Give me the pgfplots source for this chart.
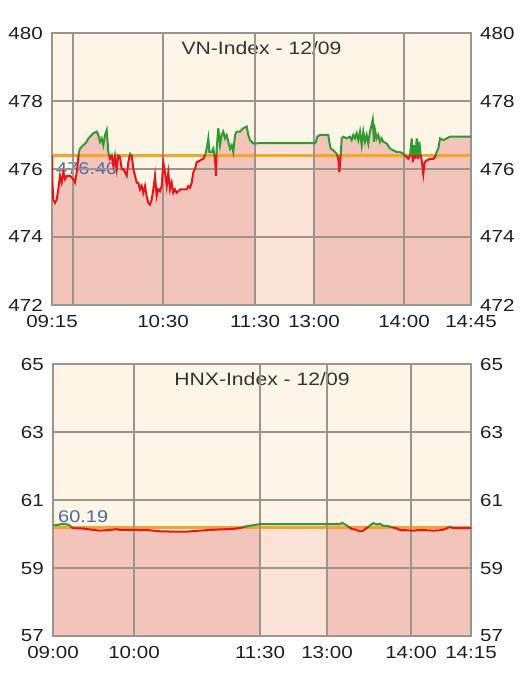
\documentclass[border=0pt]{standalone}
\usepackage{fontspec}
\setmainfont[FakeStretch=1.18]{Liberation Sans}
\usepackage{pgfplots}
\pgfplotsset{compat=1.18}
\usepackage{pgfplotstable}

\definecolor{cream}{HTML}{FDF6E6}
\definecolor{pinkfill}{HTML}{F3C5BA}
\definecolor{lunch}{HTML}{FFF6EA}
\definecolor{gridc}{HTML}{9C958E}
\definecolor{ornge}{HTML}{F6A623}
\definecolor{grn}{HTML}{2E9B2E}
\definecolor{rd}{HTML}{E8141A}
\definecolor{lbl}{HTML}{4E69A6}
\definecolor{ttl}{HTML}{333333}

\pgfplotstableread{
x y
0 476.4
0.3 475.7
1.3 475.1
3.0 475.0
4.7 475.1
6.3 475.4
8.0 475.8
9.7 475.6
11.3 475.9
13.0 475.7
14.7 475.8
18.0 475.8
21.3 475.7
23.0 475.6
24.7 475.9
27.0 476.5
28.0 476.6
31.3 476.7
34.7 476.8
36.3 476.9
38.0 476.95
41.3 477.05
44.7 477.1
46.3 477.0
48.0 476.8
49.7 476.9
51.3 476.7
53.0 477.0
54.7 477.15
56.3 476.5
58.0 476.3
59.7 476.4
61.3 476.1
63.0 476.4
64.7 476.0
66.3 476.4
68.0 476.35
69.7 476.0
71.3 476.0
73.0 475.9
74.7 475.8
76.3 476.2
78.0 476.45
79.7 476.4
81.3 476.0
83.0 475.8
84.7 475.6
86.3 475.6
88.0 475.4
89.7 475.5
91.3 475.3
93.0 475.5
94.7 475.2
96.3 475.0
98.0 474.95
99.7 475.1
101.3 475.4
103.0 475.8
104.7 475.2
106.3 475.4
108.0 475.35
109.7 475.5
111.3 476.2
113.0 475.9
114.7 475.5
116.3 475.9
118.0 475.4
119.7 475.6
121.3 475.3
123.0 475.4
124.7 475.3
128.0 475.4
131.3 475.4
134.7 475.4
136.3 475.5
138.0 475.45
139.7 475.6
141.3 475.9
143.0 476.0
144.7 476.2
148.0 476.25
151.3 476.3
153.0 476.4
154.7 476.6
156.3 476.9
157.3 476.5
159.7 476.5
161.3 476.6
163.0 476.3
164.0 475.8
164.7 476.6
166.3 477.2
168.0 476.7
169.7 477.0
171.3 477.1
173.0 476.9
174.7 477.0
178.0 476.6
179.7 476.7
181.3 476.5
183.0 477.0
184.7 477.1
188.0 477.1
191.3 477.2
194.7 477.25
196.3 477.0
198.0 476.85
201.3 476.75
208.0 476.76
263.0 476.76
264.0 476.8
265.3 476.95
268.0 477.0
271.3 477.0
276.3 477.0
277.3 476.8
278.7 476.6
281.3 476.55
284.7 476.45
286.3 476.3
287.3 475.9
288.7 476.4
289.7 476.9
291.3 476.95
294.7 476.9
298.0 476.95
299.7 476.85
301.3 477.0
303.0 476.9
304.7 477.05
306.3 476.85
308.0 477.1
309.7 476.7
311.3 477.1
313.0 476.8
314.7 477.0
316.3 476.75
318.0 477.1
319.7 477.3
320.7 477.45
322.0 476.8
323.0 477.15
324.7 476.9
326.3 477.0
328.0 476.8
329.7 476.9
331.3 476.8
334.7 476.75
338.0 476.6
341.3 476.55
344.7 476.5
348.0 476.5
351.3 476.45
353.0 476.4
354.7 476.35
356.3 476.3
358.0 476.4
359.7 476.9
360.7 476.2
362.0 476.7
363.3 476.3
364.7 476.9
366.0 476.3
367.3 476.8
368.7 476.4
370.0 476.2
371.3 475.85
372.7 476.2
374.7 476.25
378.0 476.3
381.3 476.3
383.0 476.35
384.7 476.5
386.3 476.6
388.0 476.9
391.3 476.85
394.7 476.9
398.0 476.95
419.0 476.95
}\vndata

\pgfplotstableread{
x y
0 60.25
5 60.27
10 60.30
15 60.28
18 60.22
20 60.17
30.3 60.16
40.3 60.12
47 60.10
57 60.12
63.7 60.14
67 60.12
80.3 60.12
97 60.11
107 60.08
120.3 60.07
133.7 60.07
147 60.10
163.7 60.13
180.3 60.15
187 60.17
192 60.22
200.3 60.26
207 60.29
287 60.29
289 60.33
292 60.28
295.3 60.22
298.7 60.15
303.7 60.12
307 60.08
310.3 60.10
313.7 60.18
317 60.25
320.3 60.32
323.7 60.28
327 60.30
330.3 60.24
333.7 60.24
337 60.22
340.3 60.19
343.7 60.16
347 60.12
353.7 60.11
360.3 60.10
367 60.12
373.7 60.11
380.3 60.10
387 60.11
392 60.14
397 60.22
400.3 60.17
407 60.17
418 60.17
}\hnxdata

\newcommand{\tf}{\fontsize{17.5}{20}\selectfont}
\newcommand{\ttf}{\fontsize{18}{21}\selectfont}

\pgfplotsset{
  panel/.style={
    scale only axis, anchor=south west, height=272bp,
    axis background/.style={fill=cream},
    grid=major, major grid style={gridc, line width=1.2bp},
    axis line style={gridc, line width=1.2bp},
    major tick length=0pt,
    axis on top,
    tick label style={inner sep=0pt, font=\tf, text=black!88},
    xticklabel style={yshift=-10bp},
    yticklabel style={xshift=-9bp},
    /pgf/number format/assume math mode=true,
  },
  rightax/.style={
    scale only axis, anchor=south west, height=272bp,
    hide x axis, axis y line*=right,
    axis line style={draw=none},
    major tick length=0pt,
    tick label style={inner sep=0pt, font=\tf, text=black!88},
    yticklabel style={xshift=9bp},
    /pgf/number format/assume math mode=true,
  },
  lineax/.style={
    scale only axis, anchor=south west, hide axis, clip=true,
  },
}

\begin{document}
\begin{tikzpicture}
\useasboundingbox (0bp,0bp) rectangle (525bp,684bp);

% ---------- VN-Index ----------
\begin{axis}[panel, at={(52bp,379bp)}, width=419bp,
  xmin=0, xmax=419, ymin=472, ymax=480,
  ytick={472,474,...,480},
  xtick={0,21,111,203,262,352,419},
  xticklabels={09:15,,10:30,11:30,13:00,14:00,14:45}]
\addplot[fill=pinkfill, draw=none] table[x=x,y=y]{\vndata} \closedcycle;
\fill[lunch, opacity=0.6] (axis cs:203,472) rectangle (axis cs:262,480);
\addplot[ornge, line width=2.4bp] coordinates {(0,476.4) (419,476.4)};
\node[lbl, anchor=north west, inner sep=0pt, font=\fontsize{17}{19}\selectfont, yshift=-7bp] at (axis cs:4,476.4) {476.40};
\node[ttl, anchor=north, inner sep=0pt, font=\ttf, yshift=-8bp] at (rel axis cs:0.5,1) {VN-Index - 12/09};
\end{axis}
% green part (above reference)
\begin{axis}[lineax, at={(52bp,528.6bp)}, width=419bp, height=122.4bp,
  xmin=0, xmax=419, ymin=476.4, ymax=480]
\addplot[grn, line width=2bp] table[x=x,y=y]{\vndata};
\end{axis}
% red part (below reference)
\begin{axis}[lineax, at={(52bp,379bp)}, width=419bp, height=149.6bp,
  xmin=0, xmax=419, ymin=472, ymax=476.4]
\addplot[rd, line width=2bp] table[x=x,y=y]{\vndata};
\end{axis}
\begin{axis}[rightax, at={(52bp,379bp)}, width=419bp,
  xmin=0, xmax=419, ymin=472, ymax=480, ytick={472,474,...,480}]
\end{axis}

% ---------- HNX-Index ----------
\begin{axis}[panel, at={(53bp,48bp)}, width=418bp,
  xmin=0, xmax=418, ymin=57, ymax=65,
  ytick={57,59,...,65},
  xtick={0,81,207,274,358,418},
  xticklabels={09:00,10:00,11:30,13:00,14:00,14:15}]
\addplot[fill=pinkfill, draw=none] table[x=x,y=y]{\hnxdata} \closedcycle;
\fill[lunch, opacity=0.6] (axis cs:207,57) rectangle (axis cs:274,65);
\addplot[ornge, line width=2.4bp] coordinates {(0,60.19) (418,60.19)};
\node[lbl, anchor=south west, inner sep=0pt, font=\fontsize{17}{19}\selectfont, yshift=5bp] at (axis cs:5,60.19) {60.19};
\node[ttl, anchor=north, inner sep=0pt, font=\ttf, yshift=-8bp] at (rel axis cs:0.5,1) {HNX-Index - 12/09};
\end{axis}
\begin{axis}[lineax, at={(53bp,156.46bp)}, width=418bp, height=163.54bp,
  xmin=0, xmax=418, ymin=60.19, ymax=65]
\addplot[grn, line width=2bp] table[x=x,y=y]{\hnxdata};
\end{axis}
\begin{axis}[lineax, at={(53bp,48bp)}, width=418bp, height=108.46bp,
  xmin=0, xmax=418, ymin=57, ymax=60.19]
\addplot[rd, line width=2bp] table[x=x,y=y]{\hnxdata};
\end{axis}
\begin{axis}[rightax, at={(53bp,48bp)}, width=418bp,
  xmin=0, xmax=418, ymin=57, ymax=65, ytick={57,59,...,65}]
\end{axis}
\end{tikzpicture}
\end{document}
